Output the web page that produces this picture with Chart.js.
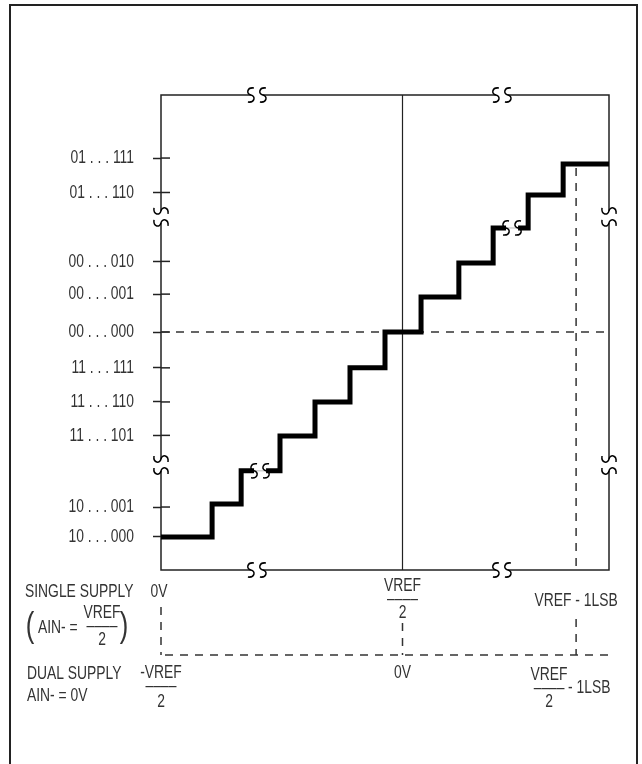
<!DOCTYPE html>
<html>
<head>
<meta charset="utf-8">
<script src="https://cdn.jsdelivr.net/npm/chart.js@4.4.1/dist/chart.umd.min.js"></script>
<style>
  html,body{margin:0;padding:0;background:#fff;}
</style>
</head>
<body>
<canvas id="adc" width="642" height="764"></canvas>
<script>
// output codes on the y axis (position in LSB units)
const codeLabels = ['10 . . . 000','10 . . . 001','11 . . . 101','11 . . . 110','11 . . . 111',
                    '00 . . . 000','00 . . . 001','00 . . . 010','01 . . . 110','01 . . . 111'];
const codeLevels = [0, 0.87, 2.95, 3.92, 4.91, 5.95, 7.05, 8, 10, 11];

// staircase transitions (x in LSB of input, y = code level)
const stepX = [0, 1.46, 2.29, 3.4, 4.4, 5.4, 6.4, 7.43, 8.51, 9.49, 10.49, 11.49, 12.8];
const stepY = [0, 0.96, 1.92, 2.93, 3.92, 4.91, 5.95, 6.97, 7.95, 8.97, 9.93, 10.83, 10.83];

// markers along the input axis: zero, mid-scale, full scale - 1LSB
const markX = [0, 6.9, 11.86];
const zeroCode = 5.95;
const topCode = 10.83;

// axis break positions
const axisBreaksX = [2.74, 9.74];
const axisBreaksY = [2.09, 9.29];
const stepBreaks = [[2.83, 1.92], [10.03, 8.97]];

const FONT = '"Liberation Sans", Arial, sans-serif';
const SX = 0.73;   // the original lettering is a condensed face
const INK = '#222';
const TXT = '#333';

// S-shaped break glyph, drawn vertically at (cx, cy)
function sGlyph(c, cx, cy){
  c.beginPath();
  c.moveTo(cx+3, cy-7);
  c.bezierCurveTo(cx-4, cy-8, cx-5, cy-1, cx, cy);
  c.bezierCurveTo(cx+5, cy+1, cx+4, cy+8, cx-3, cy+7);
  c.stroke();
}

function hBreak(c, cx, cy, gapFill){
  c.save();
  c.fillStyle = '#fff';
  c.fillRect(cx-6, cy-4, 12, 8);
  if(gapFill){
    c.strokeStyle = '#bbb'; c.lineWidth = 1;
    c.beginPath(); c.moveTo(cx-6, cy); c.lineTo(cx+6, cy); c.stroke();
  }
  c.strokeStyle = '#000'; c.lineWidth = 1.5;
  sGlyph(c, cx-6, cy);
  sGlyph(c, cx+6, cy);
  c.restore();
}

function vBreak(c, cx, cy){
  c.save();
  c.fillStyle = '#fff';
  c.fillRect(cx-3, cy-6, 6, 12);
  c.translate(cx, cy);
  c.rotate(Math.PI/2);
  c.strokeStyle = '#000'; c.lineWidth = 1.5;
  sGlyph(c, -6, 0);
  sGlyph(c, 6, 0);
  c.restore();
}

function dashed(c, x1, y1, x2, y2){
  c.save();
  c.setLineDash([8, 7]);
  c.strokeStyle = TXT; c.lineWidth = 1.5;
  c.beginPath(); c.moveTo(x1, y1); c.lineTo(x2, y2); c.stroke();
  c.restore();
}

function txt(c, s, x, y, align, size){
  c.save();
  c.font = (size || 19) + 'px ' + FONT;
  c.textAlign = align || 'center';
  c.textBaseline = 'middle';
  c.fillStyle = TXT;
  c.translate(x, y);
  c.scale(SX, 1);
  c.fillText(s, 0, 0);
  c.restore();
}

const decor = {
  id: 'decor',
  beforeDatasetsDraw(chart){
    const c = chart.ctx, a = chart.chartArea;
    const xs = chart.scales.x, ys = chart.scales.y;
    c.save();
    // outer frame
    c.strokeStyle = INK; c.lineWidth = 2;
    c.strokeRect(10, 5, 627, 780);
    // plot box
    c.lineWidth = 1.5;
    c.strokeRect(a.left, a.top, a.right - a.left, a.bottom - a.top);
    // inner halves of the code ticks
    ys.ticks.forEach((t, i) => {
      const y = ys.getPixelForTick(i);
      c.beginPath(); c.moveTo(a.left, y); c.lineTo(a.left + 9, y); c.stroke();
    });
    // mid-scale line
    c.lineWidth = 1.2;
    const xm = xs.getPixelForValue(markX[1]);
    c.beginPath(); c.moveTo(xm, a.top); c.lineTo(xm, a.bottom); c.stroke();
    // zero code and full-scale dashed guides
    dashed(c, a.left, ys.getPixelForValue(zeroCode), a.right, ys.getPixelForValue(zeroCode));
    const xf = xs.getPixelForValue(markX[2]);
    dashed(c, xf, ys.getPixelForValue(topCode) + 4, xf, a.bottom);
    c.restore();
  },
  afterDatasetsDraw(chart){
    const c = chart.ctx, a = chart.chartArea;
    const xs = chart.scales.x, ys = chart.scales.y;

    // code labels, set in the condensed lettering at the scale's tick positions
    ys.ticks.forEach((t, i) => {
      txt(c, codeLabels[i], a.left - 27, ys.getPixelForTick(i), 'right');
    });

    // axis breaks
    axisBreaksX.forEach(v => {
      const x = xs.getPixelForValue(v);
      hBreak(c, x, a.top, false);
      hBreak(c, x, a.bottom, false);
    });
    axisBreaksY.forEach(v => {
      const y = ys.getPixelForValue(v);
      vBreak(c, a.left, y);
      vBreak(c, a.right, y);
    });
    stepBreaks.forEach(p => {
      hBreak(c, xs.getPixelForValue(p[0]), ys.getPixelForValue(p[1]), true);
    });

    // input voltage legend under the plot
    const b = a.bottom;
    const x0 = xs.getPixelForValue(markX[0]);
    const x1 = xs.getPixelForValue(markX[1]);
    const x2 = xs.getPixelForValue(markX[2]);
    const yh = b + 85;

    // single supply row
    txt(c, 'SINGLE SUPPLY', 25, b + 22, 'left');
    txt(c, '(', 30, b + 57, 'center', 35);
    txt(c, 'AIN- =', 38, b + 58, 'left');
    txt(c, 'VREF', 102, b + 43);
    txt(c, '––––', 102, b + 56);
    txt(c, '2', 102, b + 70);
    txt(c, ')', 124, b + 57, 'center', 35);

    txt(c, '0V', x0 - 2, b + 22);
    txt(c, 'VREF', x1, b + 16);
    txt(c, '––––', x1, b + 29);
    txt(c, '2', x1, b + 43);
    txt(c, 'VREF - 1LSB', x2, b + 31);

    dashed(c, x0, b + 37, x0, yh);
    dashed(c, x1, b + 53, x1, yh);
    dashed(c, x2, b + 49, x2, yh);
    dashed(c, x0 + 4, yh, a.right, yh);

    // dual supply row
    txt(c, 'DUAL SUPPLY', 27, b + 104, 'left');
    txt(c, 'AIN- = 0V', 27, b + 126, 'left');
    txt(c, '-VREF', x0, b + 103);
    txt(c, '––––', x0, b + 116);
    txt(c, '2', x0, b + 132);
    txt(c, '0V', x1, b + 103);
    txt(c, 'VREF', x2 - 27, b + 105);
    txt(c, '––––', x2 - 27, b + 118);
    txt(c, '2', x2 - 27, b + 132);
    txt(c, '- 1LSB', x2 - 8, b + 118, 'left');
  }
};

new Chart(document.getElementById('adc'), {
  type: 'line',
  data: {
    datasets: [{
      data: stepX.map((x, i) => ({x: x, y: stepY[i]})),
      stepped: true,
      borderColor: '#000',
      borderWidth: 5,
      borderJoinStyle: 'miter',
      borderCapStyle: 'butt',
      pointRadius: 0,
      fill: false
    }]
  },
  options: {
    responsive: false,
    animation: false,
    layout: {padding: {top: 95, right: 33, bottom: 194, left: 0}},
    plugins: {legend: {display: false}, tooltip: {enabled: false}},
    scales: {
      x: {type: 'linear', display: false, min: 0, max: 12.8},
      y: {
        type: 'linear',
        min: -0.958, max: 12.83,
        afterFit(s){ s.width = 161; },
        afterBuildTicks(s){ s.ticks = codeLevels.map(v => ({value: v})); },
        border: {display: false},
        grid: {drawOnChartArea: false, drawTicks: true, tickLength: 8, tickColor: INK, tickWidth: 1.5},
        ticks: {display: false, autoSkip: false}
      }
    }
  },
  plugins: [decor]
});
</script>
</body>
</html>
